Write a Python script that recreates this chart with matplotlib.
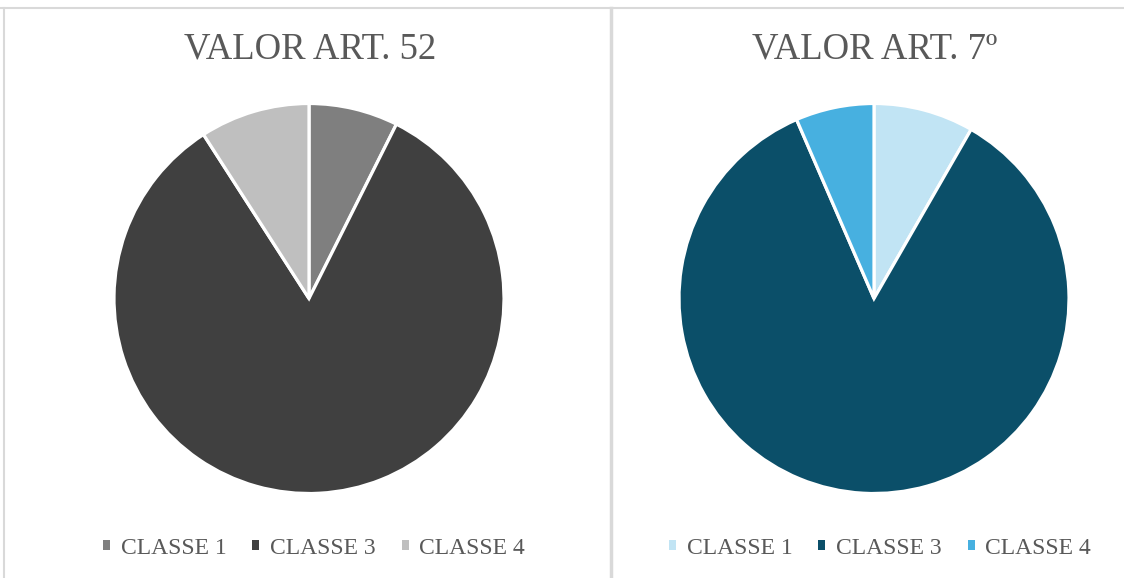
import matplotlib
matplotlib.use("Agg")
import matplotlib.pyplot as plt
from matplotlib.patches import Rectangle
from matplotlib.lines import Line2D

categories = ["CLASSE 1", "CLASSE 3", "CLASSE 4"]
titles = ["VALOR ART. 52", "VALOR ART. 7º"]
values_art52 = [7.4, 83.5, 9.1]
values_art7 = [8.3, 85.2, 6.5]
colors_art52 = ["#7f7f7f", "#404040", "#bfbfbf"]
colors_art7 = ["#c1e4f4", "#0b4f69", "#47b0e0"]

W, H = 1124, 578
fig = plt.figure(figsize=(W / 100, H / 100), dpi=100)
fig.patch.set_facecolor("white")
serif = ["Liberation Serif", "DejaVu Serif"]

# borders
border = "#d9d9d9"
fig.add_artist(Line2D([0, 1], [1 - 7.5 / H] * 2, color=border, lw=1.5, transform=fig.transFigure))
fig.add_artist(Line2D([4.0 / W] * 2, [0, 1 - 7.5 / H], color=border, lw=1.5, transform=fig.transFigure))
fig.add_artist(Line2D([610.5 / W] * 2, [0, 1 - 7.5 / H], color=border, lw=2.5, transform=fig.transFigure))

panels = [
    (309, 298.5, values_art52, colors_art52, titles[0], 310, 314),
    (874, 298.5, values_art7, colors_art7, titles[1], 875, 880),
]
R = 195
for cx, cy, vals, cols, title, tx, lx in panels:
    ax = fig.add_axes([(cx - R) / W, (H - cy - R) / H, 2 * R / W, 2 * R / H])
    ax.pie(vals, colors=cols, startangle=90, counterclock=False, radius=1,
           wedgeprops=dict(edgecolor="white", linewidth=2.3))
    ax.set_xlim(-1.0, 1.0)
    ax.set_ylim(-1.0, 1.0)
    ax.axis("off")
    fig.text(tx / W, 1 - 49 / H, title, ha="center", va="center",
             family=serif, fontsize=26.5, color="#595959")
    handles = [Rectangle((0, 0), 1, 1, facecolor=c, edgecolor="none") for c in cols]
    fig.legend(handles, categories, loc="center", bbox_to_anchor=(lx / W, 1 - 548 / H),
               ncol=3, frameon=False, prop=dict(family=serif, size=17),
               labelcolor="#595959", handlelength=0.3, handleheight=0.3,
               handletextpad=0.45, columnspacing=1.1)

fig.savefig("out.png", dpi=100, facecolor="white")
